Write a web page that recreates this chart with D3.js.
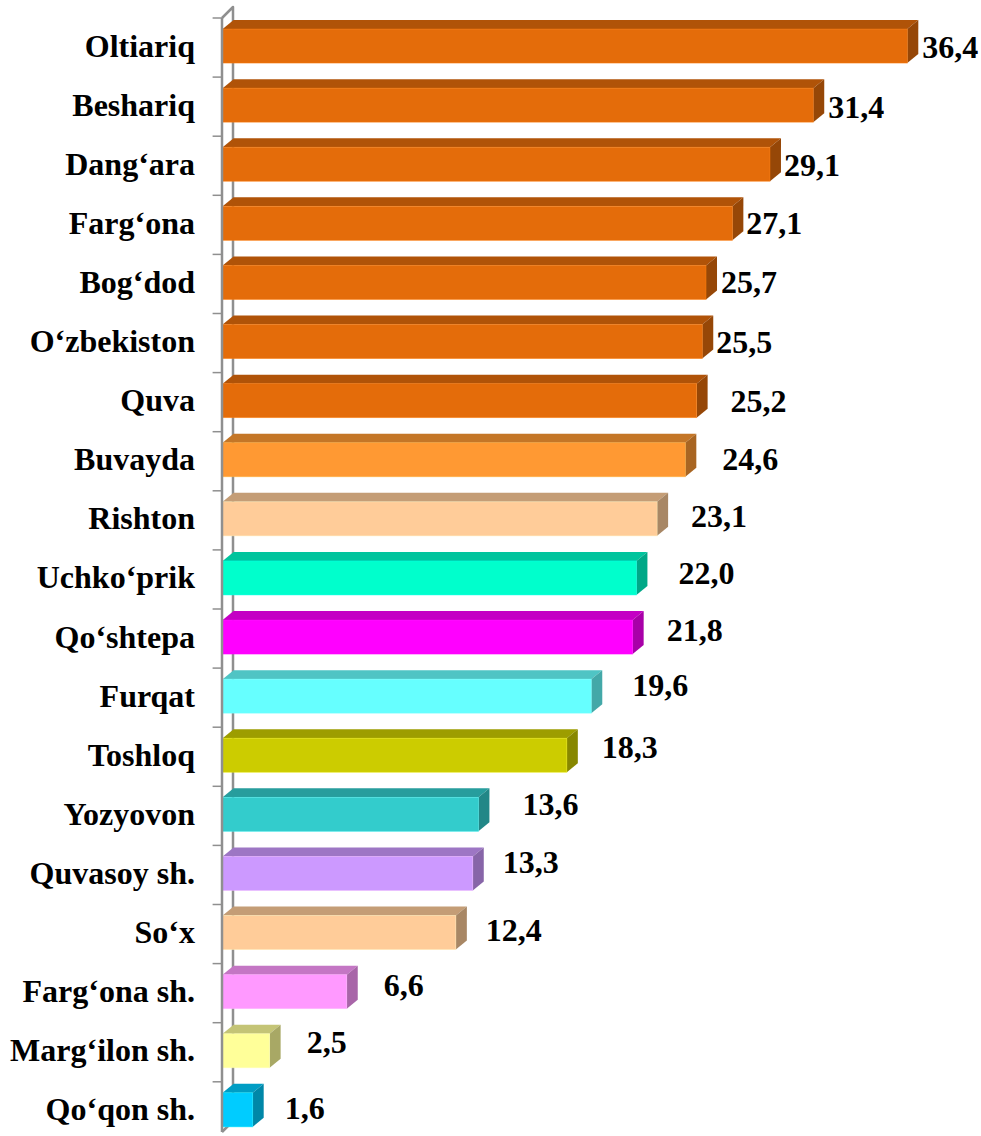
<!DOCTYPE html>
<html>
<head>
<meta charset="utf-8">
<script src="https://cdn.jsdelivr.net/npm/d3@7"></script>
<style>
  html, body { margin: 0; padding: 0; background: #fff; }
  svg { display: block; }
</style>
</head>
<body>
<svg id="chart" width="981" height="1136"></svg>
<script>
// Districts, top to bottom
const categories = [
  "Oltiariq", "Beshariq", "Dang‘ara", "Farg‘ona", "Bog‘dod", "O‘zbekiston",
  "Quva", "Buvayda", "Rishton", "Uchko‘prik", "Qo‘shtepa", "Furqat",
  "Toshloq", "Yozyovon", "Quvasoy sh.", "So‘x", "Farg‘ona sh.",
  "Marg‘ilon sh.", "Qo‘qon sh."
];
const values = [
  36.4, 31.4, 29.1, 27.1, 25.7, 25.5, 25.2, 24.6, 23.1, 22.0,
  21.8, 19.6, 18.3, 13.6, 13.3, 12.4, 6.6, 2.5, 1.6
];

// Bar fill per district
const barColors = [
  "#E46C0A", "#E46C0A", "#E46C0A", "#E46C0A", "#E46C0A", "#E46C0A",
  "#E46C0A", "#FF9933", "#FFCC99", "#00FFCC", "#FF00FF", "#66FFFF",
  "#CCCC00", "#33CCCC", "#CC99FF", "#FFCC99", "#FF99FF", "#FFFF99", "#00CCFF"
];

// Hand-placed value labels: gap after the bar's side face, baseline drop from bar middle
const labelGap = [4, 4, 3, 3, 4, 3, 23, 26, 23, 31, 23, 30, 24, 33, 19, 19, 26, 26, 21];
const labelDrop = [12, 12.5, 12, 11, 11, 11, 11, 10, 8, 6, 4, 0, 3, 1, 0, 8, 4.5, 2, 9.5];

const FONT = "'Liberation Serif', 'Times New Roman', Tinos, serif";
const FONT_SIZE = 32;

const svg = d3.select("#chart");

const x0 = 222.6;
const x = d3.scaleLinear().domain([0, 40]).range([x0, x0 + 40 * 18.81]);
const y = d3.scaleBand().domain(categories).range([18, 18 + categories.length * 59.1]);

const depthX = 11, depthY = 9, faceH = 34;
const axisColor = "#8f8f8f";
const fc = c => y(c) + y.bandwidth() / 2 - 1.5;   // vertical middle of a bar's front face

function shade(col, k) {
  const c = d3.rgb(col);
  return d3.rgb(c.r * k, c.g * k, c.b * k).formatHex();
}
const fmt = v => d3.format(".1f")(v).replace(".", ",");

// Back edge of the 3D wall (behind the bars)
const wallTop = y.range()[0];
const wallBottom = 1132;
svg.append("path")
  .attr("d", `M${x0 - 0.6},${wallTop} L${x0 + depthX - 0.6},${wallTop - depthY - 2} L${x0 + depthX - 0.6},${wallBottom - depthY - 2} L${x0 - 0.6},${wallBottom}`)
  .attr("fill", "none")
  .attr("stroke", axisColor)
  .attr("stroke-width", 2.5)
  .attr("stroke-linejoin", "round");

// Tick marks at category boundaries
const tickYs = categories.map(c => y(c)).concat([y.range()[1]]);
svg.append("g").selectAll("line")
  .data(tickYs)
  .join("line")
  .attr("x1", x0 - 10).attr("x2", x0)
  .attr("y1", d => d).attr("y2", d => d)
  .attr("stroke", axisColor)
  .attr("stroke-width", 1.5);

// 3D bars
const bars = svg.append("g").selectAll("g")
  .data(categories.map((c, i) => ({ c, v: values[i], col: barColors[i], i })))
  .join("g");

bars.append("path")   // top face
  .attr("d", d => {
    const t = fc(d.c) - faceH / 2, x1 = x(d.v);
    return `M${x0},${t} L${x0 + depthX},${t - depthY} L${x1 + depthX},${t - depthY} L${x1},${t} Z`;
  })
  .attr("fill", d => shade(d.col, 0.77));

bars.append("path")   // side face
  .attr("d", d => {
    const t = fc(d.c) - faceH / 2, b = t + faceH, x1 = x(d.v);
    return `M${x1},${t} L${x1 + depthX},${t - depthY} L${x1 + depthX},${b - depthY} L${x1},${b} Z`;
  })
  .attr("fill", d => shade(d.col, 0.66));

bars.append("rect")   // front face
  .attr("x", x0)
  .attr("y", d => fc(d.c) - faceH / 2)
  .attr("width", d => x(d.v) - x0)
  .attr("height", faceH)
  .attr("fill", d => d.col)
  .attr("stroke", d => d3.color(d.col).brighter(0.4))
  .attr("stroke-opacity", 0.6)
  .attr("stroke-width", 0.8);

// Front edge of the wall, over the bars
svg.append("line")
  .attr("x1", x0 - 0.6).attr("x2", x0 - 0.6)
  .attr("y1", wallTop).attr("y2", wallBottom)
  .attr("stroke", axisColor)
  .attr("stroke-width", 2.5);

// Category labels
svg.append("g").selectAll("text")
  .data(categories)
  .join("text")
  .attr("x", 195)
  .attr("y", c => fc(c) + 10.5)
  .attr("text-anchor", "end")
  .attr("font-family", FONT)
  .attr("font-weight", "bold")
  .attr("font-size", FONT_SIZE)
  .attr("fill", "#000")
  .text(c => c);

// Value labels
svg.append("g").selectAll("text")
  .data(categories.map((c, i) => ({ c, v: values[i], i })))
  .join("text")
  .attr("x", d => x(d.v) + depthX + labelGap[d.i])
  .attr("y", d => fc(d.c) + labelDrop[d.i])
  .attr("font-family", FONT)
  .attr("font-weight", "bold")
  .attr("font-size", FONT_SIZE)
  .attr("fill", "#000")
  .text(d => fmt(d.v));
</script>
</body>
</html>
